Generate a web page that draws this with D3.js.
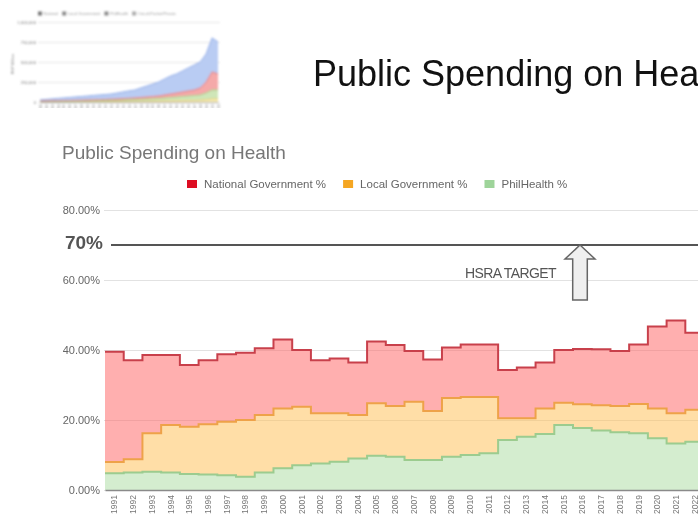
<!DOCTYPE html>
<html>
<head>
<meta charset="utf-8">
<script src="https://cdn.jsdelivr.net/npm/d3@7"></script>
<style>
  html, body { margin: 0; padding: 0; background: #fff; overflow: hidden; }
  svg { display: block; font-family: "Liberation Sans", Arial, sans-serif; }
</style>
</head>
<body>
<svg id="slide" width="698" height="523"></svg>
<script>
// ---- Main chart: share of public health spending by source (%) ----
const years = ["1991","1992","1993","1994","1995","1996","1997","1998","1999","2000",
               "2001","2002","2003","2004","2005","2006","2007","2008","2009","2010",
               "2011","2012","2013","2014","2015","2016","2017","2018","2019","2020",
               "2021","2022"];
const philHealthPct = [4.8,5.0,5.2,5.0,4.6,4.4,4.2,3.8,5.0,6.2,7.1,7.6,8.1,9.0,9.8,9.5,
                       8.6,8.6,9.5,10.0,10.5,14.3,15.2,16.0,18.6,17.7,17.0,16.5,16.2,14.8,13.3,13.8];
const localGovPct   = [3.2,3.8,11.0,13.6,13.5,14.4,15.3,16.2,16.4,17.1,16.7,14.3,13.8,12.4,15.0,14.5,
                       16.6,14.0,16.8,16.6,16.1,6.2,5.3,7.3,6.3,6.8,7.2,7.5,8.4,8.5,8.6,9.1];
const nationalPct   = [31.5,28.3,22.4,20.0,17.6,18.3,19.3,19.2,19.1,19.7,16.2,15.2,15.7,15.0,17.6,17.4,
                       14.5,14.7,14.4,15.0,15.0,13.8,14.5,13.1,15.1,15.8,16.0,15.7,17.0,23.4,26.5,22.0];
const pctTicks = [0, 20, 40, 60, 80];
const hsraTarget = 70;
const seriesNames = ["National Government %", "Local Government %", "PhilHealth %"];

// ---- Inset: public health spending in absolute terms ----
const thumbYears = ["1991","1992","1993","1994","1995","1996","1997","1998","1999","2000",
                    "2001","2002","2003","2004","2005","2006","2007","2008","2009","2010",
                    "2011","2012","2013","2014","2015","2016","2017","2018","2019","2020","2021"];
const thumbLocal    = [3,3,3,3,4,4,4,4,5,5,5,6,6,6,8,8,9,9,10,11,13,14,15,16,18,19,20,23,28,38,38];
const thumbPhil     = [4,4,5,5,5,6,8,9,9,10,11,11,13,15,16,19,20,24,26,29,31,36,41,46,51,56,61,65,85,113,113];
const thumbNational = [6,6,8,8,9,9,9,10,11,13,14,15,16,16,18,19,21,24,26,29,31,38,44,50,56,63,69,88,138,225,200];
const thumbPrivate  = [13,19,23,29,33,38,43,46,50,54,58,61,65,75,84,93,100,119,138,156,175,200,225,238,263,288,313,325,350,425,400];
const thumbTicks = [0, 250, 500, 750, 1000];
const thumbNames = ["National", "Local Government", "PhilHealth", "Out-of-Pocket/Private"];

const svg = d3.select("#slide");
const defs = svg.append("defs");
defs.append("filter").attr("id", "soft").attr("x", "-5%").attr("y", "-5%").attr("width", "110%").attr("height", "110%")
  .append("feGaussianBlur").attr("stdDeviation", 0.65);
defs.append("filter").attr("id", "softer").attr("x", "-5%").attr("y", "-5%").attr("width", "110%").attr("height", "110%")
  .append("feGaussianBlur").attr("stdDeviation", 1.1);
defs.append("clipPath").attr("id", "thumbClip").append("rect")
  .attr("x", 0).attr("y", 0).attr("width", 240).attr("height", 108);

// ================= Inset chart =================
const thumb = svg.append("g").attr("clip-path", "url(#thumbClip)")
  .append("g").attr("filter", "url(#softer)");
const tx = d3.scalePoint().domain(thumbYears).range([40, 218]);
const ty = d3.scaleLinear().domain([0, 1000]).range([102, 22]);

const tAxis = thumb.append("g").attr("transform", "translate(38,0)")
  .call(d3.axisLeft(ty).tickValues(thumbTicks).tickSize(-182).tickPadding(2)
    .tickFormat(d => d3.format(",")(d * 1000)));
tAxis.select(".domain").remove();
tAxis.selectAll("line").attr("stroke", "#e6e6e6");
tAxis.selectAll("text").attr("font-size", 4.2).attr("fill", "#777");

thumb.append("text").attr("transform", "translate(14,64) rotate(-90)")
  .attr("text-anchor", "middle").attr("font-size", 4).attr("fill", "#888").text("PHP Million");

const tRows = thumbYears.map((yr, i) => ({
  year: yr, local: thumbLocal[i], phil: thumbPhil[i], national: thumbNational[i], priv: thumbPrivate[i]
}));
const tStack = d3.stack().keys(["local", "phil", "national", "priv"])(tRows);
const tFill = ["#f8ecb4", "#cfe6b8", "#f5a9a9", "#b9ccf3"];
const tLine = ["#e8cf7c", "#a9d08c", "#e07c7c", "#93aee8"];
const tArea = d3.area().x(d => tx(d.data.year)).y0(d => ty(d[0])).y1(d => ty(d[1]));
const tTop = d3.line().x(d => tx(d.data.year)).y(d => ty(d[1]));
thumb.append("g").selectAll("path").data(tStack).join("path")
  .attr("d", tArea).attr("fill", (d, i) => tFill[i]);
thumb.append("g").selectAll("path").data(tStack).join("path")
  .attr("d", tTop).attr("fill", "none").attr("stroke", (d, i) => tLine[i]).attr("stroke-width", 1);

const tx2 = thumb.append("g").attr("transform", "translate(0,102)")
  .call(d3.axisBottom(tx).tickSize(0).tickPadding(0));
tx2.select(".domain").attr("stroke", "#aaa");
tx2.selectAll("text").attr("font-size", 3.5).attr("fill", "#888")
  .attr("transform", "rotate(-90)").attr("text-anchor", "end").attr("x", -2).attr("y", 0).attr("dy", "0.35em");

// inset legend
const tLegColors = ["#777", "#888", "#888", "#aaa"];
let tlx = 38;
thumbNames.forEach((name, i) => {
  thumb.append("rect").attr("x", tlx).attr("y", 11.5).attr("width", 4).attr("height", 4).attr("fill", tLegColors[i]);
  const t = thumb.append("text").attr("x", tlx + 5.5).attr("y", 15).attr("font-size", 4).attr("fill", "#999").text(name);
  tlx += 5.5 + t.node().getComputedTextLength() + 4;
});

// ================= Main chart =================
const x = d3.scaleBand().domain(years).range([105, 105 + years.length * 18.72]).padding(0);
const y = d3.scaleLinear().domain([0, 80]).range([490, 210]);

const chart = svg.append("g").attr("filter", "url(#soft)");

chart.append("text").attr("x", 62).attr("y", 159)
  .attr("font-size", 19).attr("fill", "#777").text("Public Spending on Health");

// legend
const legColors = ["#dd1122", "#f5a623", "#9ed49a"];
let lx = 187;
seriesNames.forEach((name, i) => {
  chart.append("rect").attr("x", lx).attr("y", 180).attr("width", 10).attr("height", 8).attr("fill", legColors[i]);
  const t = chart.append("text").attr("x", lx + 17).attr("y", 188).attr("font-size", 11.5).attr("fill", "#666").text(name);
  lx += 17 + t.node().getComputedTextLength() + 17;
});

// y axis with gridlines
const yAxis = chart.append("g").attr("transform", "translate(104,0)")
  .call(d3.axisLeft(y).tickValues(pctTicks).tickSize(-610).tickPadding(4)
    .tickFormat(d => d.toFixed(2) + "%"));
yAxis.select(".domain").remove();
yAxis.selectAll("line").attr("stroke", "#e2e2e2").attr("stroke-width", 1.2);
yAxis.selectAll("text").attr("font-size", 11).attr("fill", "#666");

// stacked step areas
const rows = years.map((yr, i) => ({
  year: yr, phil: philHealthPct[i], local: localGovPct[i], national: nationalPct[i]
}));
const stacked = d3.stack().keys(["phil", "local", "national"])(rows);
const stepPoints = s => {
  const pts = s.map(d => ({ px: x(d.data.year), v0: d[0], v1: d[1] }));
  const last = s[s.length - 1];
  pts.push({ px: x(last.data.year) + x.bandwidth(), v0: last[0], v1: last[1] });
  return pts;
};
const fills = ["rgba(170,220,160,0.5)", "rgba(255,190,80,0.5)", "rgba(255,95,95,0.5)"];
const strokes = ["#9ccc8f", "#eea24a", "#c8404c"];
const area = d3.area().curve(d3.curveStepAfter).x(d => d.px).y0(d => y(d.v0)).y1(d => y(d.v1));
const topLine = d3.line().curve(d3.curveStepAfter).x(d => d.px).y(d => y(d.v1));

chart.append("g").selectAll("path").data(stacked).join("path")
  .attr("d", s => area(stepPoints(s))).attr("fill", (d, i) => fills[i]);
chart.append("g").selectAll("path").data(stacked).join("path")
  .attr("d", s => topLine(stepPoints(s))).attr("fill", "none")
  .attr("stroke", (d, i) => strokes[i]).attr("stroke-width", 2);

// baseline and year labels
const xAxis = chart.append("g").attr("transform", `translate(0,${y(0)})`)
  .call(d3.axisBottom(x).tickSize(0).tickPadding(0));
xAxis.select(".domain").attr("stroke", "#8a8a8a").attr("stroke-width", 1.5);
xAxis.selectAll("text").attr("font-size", 8.5).attr("fill", "#777")
  .attr("transform", "rotate(-90)").attr("text-anchor", "end")
  .attr("x", -5).attr("y", 0).attr("dy", "0.35em");

// ================= Slide annotations =================
svg.append("text").attr("x", 313).attr("y", 86)
  .attr("font-size", 36).attr("fill", "#111").text("Public Spending on Health");

svg.append("line").attr("x1", 111).attr("x2", 698)
  .attr("y1", y(hsraTarget)).attr("y2", y(hsraTarget))
  .attr("stroke", "#555").attr("stroke-width", 2);
svg.append("text").attr("x", 103).attr("y", y(hsraTarget) + 4)
  .attr("text-anchor", "end").attr("font-size", 19).attr("font-weight", "bold")
  .attr("fill", "#555").text(hsraTarget + "%");

const ax = 580, tipY = y(hsraTarget);
const arrowPts = [[ax, tipY], [ax + 15, tipY + 14], [ax + 7.3, tipY + 14], [ax + 7.3, tipY + 55],
                  [ax - 7.3, tipY + 55], [ax - 7.3, tipY + 14], [ax - 15, tipY + 14]];
svg.append("polygon").attr("points", arrowPts.map(p => p.join(",")).join(" "))
  .attr("fill", "#efefef").attr("stroke", "#666").attr("stroke-width", 1.5);
svg.append("text").attr("x", 556).attr("y", 278).attr("text-anchor", "end")
  .attr("font-size", 14).attr("letter-spacing", -0.6).attr("fill", "#555").text("HSRA TARGET");
</script>
</body>
</html>
